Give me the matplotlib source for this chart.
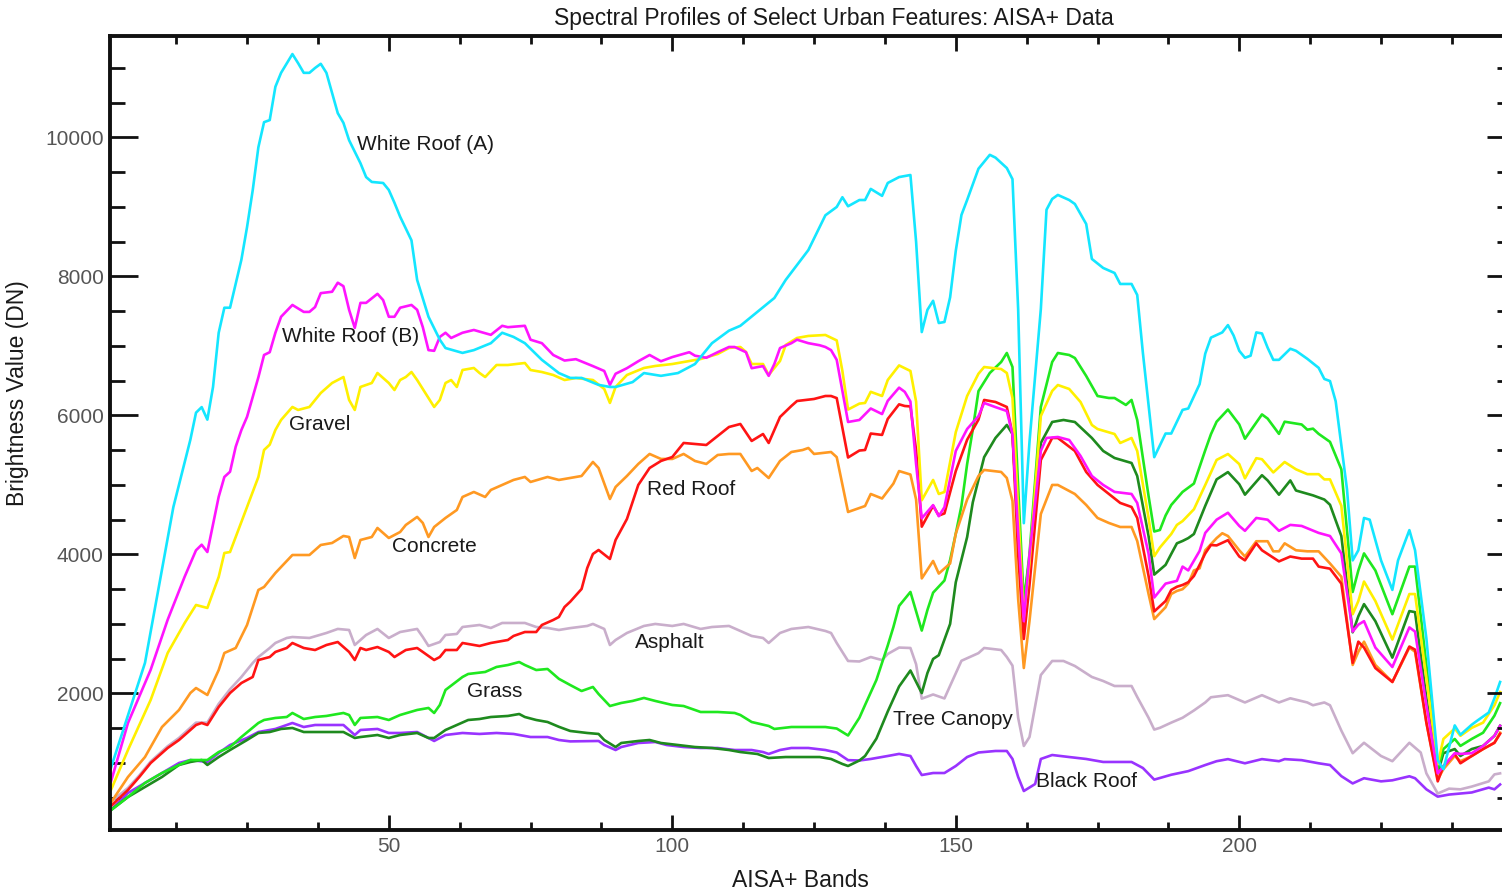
import matplotlib
matplotlib.use("Agg")
import matplotlib.pyplot as plt
from matplotlib.ticker import MultipleLocator

plt.rcParams['font.family'] = ['Liberation Sans', 'DejaVu Sans']

# (band, brightness DN)
white_a = [(1, 930), (7, 2440), (12, 4680), (15, 5650), (16, 6040), (17, 6120), (18, 5940), (19, 6410),
           (20, 7190), (21, 7550), (22, 7550), (24, 8240), (25, 8710), (26, 9240), (27, 9860), (28, 10220),
           (29, 10250), (30, 10730), (31, 10930), (33, 11200), (34, 11070), (35, 10930), (36, 10930),
           (37, 11000), (38, 11060), (39, 10930), (41, 10350), (42, 10210), (43, 9960), (45, 9630),
           (46, 9430), (47, 9360), (49, 9345), (50, 9245), (51, 9060), (52, 8860), (54, 8520), (55, 7950),
           (57, 7420), (59, 7090), (60, 6970), (63, 6900), (65, 6940), (68, 7040), (70, 7190), (72, 7130),
           (74, 7040), (77, 6800), (80, 6610), (82, 6540), (84, 6540), (87, 6440), (89, 6410), (90, 6410),
           (93, 6480), (95, 6610), (98, 6570), (101, 6610), (104, 6740), (105, 6840), (107, 7040),
           (110, 7220), (112, 7290), (115, 7490), (118, 7690), (120, 7950), (124, 8380), (127, 8880),
           (129, 9000), (130, 9140), (131, 9010), (133, 9100), (134, 9100), (135, 9260), (137, 9160),
           (138, 9345), (140, 9430), (142, 9460), (143, 8500), (144, 7200), (145, 7520), (146, 7650),
           (147, 7330), (148, 7345), (149, 7700), (150, 8370), (151, 8885), (152, 9100), (154, 9550),
           (156, 9750), (157, 9710), (159, 9560), (160, 9400), (161, 7530), (162, 4450), (163, 5620),
           (165, 7530), (166, 8960), (167, 9115), (168, 9173), (170, 9100), (171, 9043), (173, 8755),
           (174, 8252), (176, 8122), (178, 8050), (179, 7892), (181, 7892), (182, 7734), (183, 6900),
           (185, 5400), (187, 5740), (188, 5740), (190, 6080), (191, 6100), (193, 6450), (194, 6890),
           (195, 7120), (197, 7195), (198, 7300), (199, 7150), (200, 6930), (201, 6830), (202, 6860),
           (203, 7195), (204, 7180), (205, 6975), (206, 6800), (207, 6800), (209, 6960), (210, 6930),
           (212, 6815), (214, 6685), (215, 6525), (216, 6495), (217, 6205), (219, 4935), (220, 3915),
           (221, 4060), (222, 4525), (223, 4500), (225, 3915), (227, 3490), (228, 3915), (230, 4350),
           (231, 4060), (233, 2790), (235, 1040), (236, 910), (238, 1540), (239, 1405), (241, 1550),
           (242, 1610), (244, 1725), (245, 1930), (246, 2165)]

white_b = [(1, 730), (4, 1575), (8, 2340), (11, 3060), (14, 3680), (16, 4060), (17, 4140), (18, 4035),
           (20, 4830), (21, 5115), (22, 5190), (23, 5550), (24, 5790), (25, 5980), (27, 6550), (28, 6870),
           (29, 6910), (30, 7190), (31, 7420), (33, 7590), (35, 7490), (36, 7490), (37, 7560), (38, 7760),
           (40, 7780), (41, 7910), (42, 7860), (43, 7520), (44, 7260), (45, 7620), (46, 7620), (48, 7750),
           (49, 7660), (50, 7420), (51, 7420), (52, 7550), (54, 7590), (55, 7520), (56, 7270), (57, 6940),
           (58, 6930), (59, 7130), (60, 7190), (61, 7115), (63, 7190), (65, 7230), (68, 7160), (70, 7290),
           (71, 7270), (74, 7290), (75, 7090), (77, 7040), (79, 6870), (81, 6790), (83, 6810), (86, 6710),
           (88, 6640), (89, 6440), (90, 6600), (92, 6680), (94, 6780), (96, 6870), (98, 6780), (100, 6840),
           (103, 6910), (104, 6860), (106, 6830), (108, 6910), (110, 6985), (111, 6985), (113, 6910),
           (114, 6680), (116, 6710), (117, 6570), (118, 6740), (119, 6970), (121, 7040), (122, 7090),
           (124, 7040), (126, 7010), (127, 6985), (128, 6940), (129, 6800), (131, 5906), (133, 5935),
           (135, 6100), (137, 6020), (138, 6210), (140, 6400), (141, 6340), (142, 6200), (143, 5300),
           (144, 4520), (146, 4710), (147, 4550), (148, 4680), (150, 5490), (152, 5805), (154, 5990),
           (155, 6180), (157, 6120), (159, 6064), (160, 5730), (161, 4320), (162, 3040), (163, 4000),
           (165, 5490), (166, 5676), (168, 5690), (170, 5647), (172, 5417), (174, 5129), (176, 5000),
           (178, 4900), (181, 4870), (182, 4741), (184, 4010), (185, 3380), (187, 3580), (189, 3620),
           (190, 3825), (191, 3770), (193, 4050), (194, 4310), (196, 4500), (198, 4600), (200, 4410),
           (201, 4340), (203, 4525), (205, 4500), (207, 4340), (209, 4425), (211, 4410), (214, 4310),
           (216, 4265), (218, 4015), (220, 2890), (221, 2990), (222, 3040), (224, 2660), (227, 2380),
           (230, 2950), (231, 2890), (233, 1830), (235, 850), (236, 950), (238, 1140), (239, 1130),
           (241, 1140), (243, 1245), (245, 1390), (246, 1535)]

gravel = [(1, 611), (4, 1186), (8, 1906), (11, 2582), (14, 3014), (16, 3273), (18, 3230), (20, 3676),
          (21, 4021), (22, 4035), (24, 4467), (25, 4683), (27, 5115), (28, 5503), (29, 5580), (30, 5791),
          (31, 5935), (33, 6122), (34, 6079), (36, 6122), (38, 6323), (40, 6467), (42, 6553), (43, 6223),
          (44, 6079), (45, 6410), (47, 6467), (48, 6611), (50, 6467), (51, 6366), (52, 6510), (53, 6553),
          (54, 6625), (55, 6510), (57, 6251), (58, 6122), (59, 6223), (60, 6467), (61, 6510), (62, 6410),
          (63, 6654), (65, 6683), (66, 6611), (67, 6553), (69, 6726), (71, 6726), (74, 6755), (75, 6654),
          (77, 6625), (79, 6582), (81, 6510), (83, 6539), (86, 6510), (88, 6381), (89, 6180), (90, 6410),
          (92, 6582), (95, 6683), (97, 6712), (100, 6740), (102, 6769), (105, 6812), (108, 6884),
          (110, 6971), (112, 6985), (113, 6913), (114, 6740), (116, 6740), (117, 6582), (119, 6784),
          (120, 7014), (122, 7115), (124, 7144), (127, 7158), (129, 7080), (130, 6640), (131, 6085),
          (133, 6170), (134, 6180), (135, 6340), (137, 6280), (138, 6510), (140, 6720), (142, 6640),
          (143, 6200), (144, 4780), (146, 5072), (147, 4870), (148, 4899), (150, 5760), (152, 6280),
          (154, 6600), (155, 6697), (158, 6668), (159, 6611), (160, 6251), (161, 4654), (162, 3100),
          (163, 3877), (165, 5992), (167, 6352), (168, 6438), (170, 6381), (172, 6194), (174, 5863),
          (175, 5805), (178, 5733), (179, 5604), (181, 5676), (182, 5489), (184, 4525), (185, 3975),
          (186, 4100), (188, 4294), (189, 4425), (190, 4480), (192, 4650), (194, 5000), (196, 5360),
          (198, 5445), (200, 5300), (201, 5095), (203, 5385), (204, 5370), (206, 5180), (208, 5330),
          (210, 5225), (212, 5155), (214, 5155), (215, 5080), (216, 5080), (218, 4700), (220, 3140),
          (221, 3330), (222, 3610), (224, 3330), (227, 2775), (230, 3430), (231, 3430), (233, 2220),
          (235, 980), (236, 1345), (238, 1495), (239, 1390), (241, 1505), (243, 1580), (245, 1830),
          (246, 2020)]

concrete = [(1, 430), (4, 798), (7, 1085), (10, 1517), (13, 1762), (15, 2006), (16, 2078), (18, 1978),
            (20, 2337), (21, 2582), (23, 2654), (25, 2985), (27, 3489), (28, 3532), (30, 3733), (33, 3992),
            (36, 3992), (38, 4136), (40, 4165), (42, 4266), (43, 4251), (44, 3949), (45, 4208), (47, 4251),
            (48, 4381), (50, 4237), (52, 4323), (53, 4424), (55, 4540), (56, 4453), (57, 4251), (58, 4395),
            (60, 4525), (62, 4640), (63, 4827), (65, 4899), (67, 4827), (68, 4928), (70, 5000), (72, 5072),
            (74, 5115), (75, 5043), (78, 5115), (80, 5072), (82, 5100), (84, 5129), (86, 5331), (87, 5244),
            (89, 4798), (90, 4971), (92, 5129), (94, 5302), (96, 5446), (98, 5374), (100, 5374),
            (102, 5446), (104, 5345), (106, 5302), (108, 5431), (110, 5446), (112, 5446), (114, 5201),
            (115, 5244), (117, 5100), (119, 5345), (121, 5474), (123, 5503), (124, 5532), (125, 5446),
            (128, 5474), (129, 5400), (131, 4611), (133, 4669), (134, 4697), (135, 4870), (137, 4805),
            (139, 5020), (140, 5200), (142, 5150), (143, 4790), (144, 3655), (146, 3906), (147, 3725),
            (149, 3870), (150, 4300), (152, 4790), (154, 5129), (155, 5216), (158, 5187), (159, 5100),
            (160, 4769), (161, 3359), (162, 2366), (163, 3043), (165, 4582), (167, 5000), (168, 5000),
            (171, 4870), (173, 4712), (175, 4525), (177, 4453), (179, 4395), (181, 4395), (182, 4194),
            (184, 3431), (185, 3070), (187, 3240), (188, 3431), (189, 3475), (190, 3500), (191, 3580),
            (192, 3770), (193, 3800), (194, 4060), (196, 4235), (197, 4305), (198, 4265), (200, 4060),
            (201, 3970), (203, 4190), (205, 4190), (206, 4045), (207, 4045), (208, 4160), (210, 4060),
            (212, 4045), (214, 4045), (216, 3870), (218, 3680), (220, 2410), (221, 2600), (222, 2745),
            (224, 2410), (227, 2165), (230, 2660), (231, 2600), (233, 1580), (235, 765), (236, 910),
            (238, 1100), (239, 1025), (241, 1100), (243, 1200), (245, 1290), (246, 1435)]

red_roof = [(1, 380), (4, 611), (6, 798), (8, 999), (11, 1215), (13, 1330), (16, 1546), (17, 1575),
            (18, 1546), (20, 1805), (22, 2006), (24, 2150), (26, 2237), (27, 2481), (29, 2524), (30, 2597),
            (32, 2654), (33, 2726), (35, 2654), (37, 2625), (39, 2697), (41, 2740), (43, 2597), (44, 2481),
            (45, 2654), (46, 2625), (48, 2668), (50, 2597), (51, 2524), (53, 2625), (55, 2654), (56, 2597),
            (58, 2481), (59, 2524), (60, 2625), (62, 2625), (63, 2726), (66, 2683), (68, 2726), (71, 2769),
            (72, 2827), (74, 2884), (76, 2884), (77, 2985), (79, 3057), (80, 3100), (81, 3244), (82, 3320),
            (84, 3503), (85, 3805), (86, 4007), (87, 4064), (89, 3935), (90, 4208), (92, 4510), (94, 5000),
            (96, 5244), (98, 5345), (100, 5402), (102, 5604), (104, 5590), (106, 5575), (108, 5705),
            (110, 5834), (112, 5877), (114, 5633), (116, 5733), (117, 5604), (119, 5978), (121, 6136),
            (122, 6208), (125, 6237), (127, 6280), (128, 6280), (129, 6250), (131, 5395), (133, 5495),
            (134, 5503), (135, 5740), (137, 5720), (138, 5950), (140, 6160), (141, 6136), (142, 6130),
            (143, 5500), (144, 4400), (146, 4700), (147, 4560), (148, 4590), (150, 5200), (152, 5650),
            (154, 5940), (155, 6223), (157, 6194), (159, 6122), (160, 5733), (161, 4007), (162, 2784),
            (163, 3561), (165, 5359), (167, 5676), (168, 5676), (171, 5489), (173, 5187), (175, 5000),
            (177, 4870), (179, 4741), (181, 4683), (182, 4525), (184, 3690), (185, 3180), (187, 3330),
            (188, 3489), (189, 3535), (190, 3561), (191, 3600), (192, 3690), (193, 3850), (194, 4015),
            (195, 4136), (196, 4130), (198, 4205), (200, 3970), (201, 3915), (203, 4160), (204, 4060),
            (207, 3900), (209, 3970), (211, 3940), (213, 3940), (214, 3825), (216, 3795), (218, 3580),
            (220, 2440), (221, 2745), (222, 2660), (224, 2365), (227, 2165), (230, 2675), (231, 2630),
            (233, 1580), (235, 735), (236, 955), (238, 1130), (239, 995), (241, 1100), (243, 1200),
            (245, 1290), (246, 1420)]

asphalt = [(1, 440), (4, 640), (6, 820), (8, 1020), (11, 1240), (13, 1360), (16, 1580), (18, 1580),
           (20, 1850), (22, 2060), (24, 2237), (26, 2438), (27, 2524), (29, 2654), (30, 2726), (32, 2798),
           (33, 2812), (36, 2798), (39, 2870), (41, 2928), (43, 2913), (44, 2697), (46, 2841), (48, 2928),
           (50, 2798), (52, 2884), (55, 2928), (56, 2812), (57, 2683), (59, 2740), (60, 2841), (62, 2856),
           (63, 2956), (66, 2985), (68, 2942), (70, 3014), (74, 3014), (76, 2956), (78, 2942), (80, 2913),
           (82, 2940), (85, 2971), (86, 3000), (88, 2928), (89, 2697), (90, 2769), (92, 2870), (95, 2971),
           (97, 3000), (100, 2971), (102, 3000), (105, 2928), (107, 2956), (110, 2971), (112, 2899),
           (114, 2827), (116, 2798), (117, 2726), (119, 2870), (121, 2928), (124, 2956), (127, 2899),
           (128, 2870), (129, 2726), (131, 2467), (133, 2460), (135, 2524), (137, 2480), (138, 2568),
           (140, 2660), (142, 2654), (143, 2420), (144, 1925), (146, 1985), (148, 1928), (149, 2110),
           (151, 2470), (154, 2580), (155, 2654), (158, 2625), (159, 2524), (160, 2400), (161, 1650),
           (162, 1244), (163, 1373), (165, 2265), (167, 2467), (169, 2467), (171, 2395), (174, 2237),
           (176, 2179), (178, 2107), (181, 2107), (182, 1949), (184, 1650), (185, 1480), (186, 1505),
           (188, 1580), (190, 1650), (192, 1755), (194, 1870), (195, 1945), (198, 1975), (201, 1870),
           (204, 1975), (207, 1870), (209, 1930), (212, 1870), (213, 1830), (215, 1870), (216, 1830),
           (218, 1465), (220, 1140), (222, 1290), (225, 1100), (227, 1025), (230, 1290), (232, 1150),
           (233, 850), (235, 560), (237, 630), (239, 620), (241, 660), (244, 735), (245, 835), (246, 850)]

grass = [(1, 320), (4, 510), (7, 712), (10, 855), (13, 971), (15, 1042), (18, 1042), (20, 1157),
         (22, 1229), (24, 1373), (27, 1575), (28, 1618), (30, 1647), (32, 1661), (33, 1719), (35, 1632),
         (37, 1661), (39, 1676), (42, 1719), (43, 1690), (44, 1546), (45, 1647), (48, 1661), (50, 1618),
         (52, 1690), (55, 1762), (57, 1791), (58, 1719), (59, 1834), (60, 2050), (63, 2237), (64, 2280),
         (67, 2309), (69, 2381), (71, 2409), (73, 2452), (74, 2409), (76, 2337), (78, 2352), (80, 2210),
         (82, 2121), (84, 2035), (86, 2093), (87, 1992), (89, 1819), (91, 1863), (93, 1892), (95, 1935),
         (97, 1892), (100, 1834), (102, 1819), (105, 1733), (108, 1733), (111, 1719), (112, 1690),
         (114, 1589), (117, 1532), (118, 1489), (121, 1517), (124, 1517), (127, 1517), (129, 1495),
         (131, 1395), (133, 1650), (134, 1834), (136, 2194), (138, 2690), (139, 2956), (140, 3260),
         (142, 3460), (144, 2905), (145, 3201), (146, 3450), (148, 3625), (149, 3920), (150, 4300),
         (151, 4700), (152, 5300), (153, 5800), (154, 6350), (156, 6611), (158, 6769), (159, 6899),
         (160, 6697), (161, 4971), (162, 3302), (163, 4007), (165, 6122), (167, 6769), (168, 6899),
         (170, 6870), (171, 6827), (173, 6568), (175, 6280), (177, 6251), (178, 6251), (180, 6151),
         (181, 6223), (182, 5935), (184, 4841), (185, 4330), (186, 4352), (187, 4560), (188, 4712),
         (190, 4900), (192, 5020), (194, 5500), (195, 5730), (196, 5910), (198, 6085), (200, 5870),
         (201, 5665), (204, 6015), (205, 5955), (207, 5735), (208, 5910), (211, 5870), (212, 5795),
         (213, 5810), (214, 5735), (216, 5620), (218, 5225), (220, 3460), (221, 3770), (222, 4015),
         (224, 3770), (227, 3140), (230, 3825), (231, 3825), (233, 2410), (235, 910), (236, 1200),
         (238, 1345), (239, 1245), (241, 1345), (243, 1435), (245, 1680), (246, 1860)]

tree_canopy = [(1, 323), (4, 510), (7, 654), (10, 798), (13, 971), (15, 1014), (17, 1042), (18, 971),
               (20, 1085), (22, 1186), (25, 1330), (27, 1431), (29, 1445), (31, 1489), (33, 1503),
               (35, 1445), (39, 1445), (42, 1445), (43, 1402), (44, 1359), (45, 1373), (48, 1402),
               (50, 1359), (52, 1402), (55, 1431), (57, 1359), (58, 1359), (60, 1474), (62, 1546),
               (64, 1618), (66, 1632), (68, 1661), (71, 1676), (73, 1704), (74, 1661), (76, 1618),
               (78, 1589), (80, 1520), (82, 1460), (85, 1431), (87, 1417), (88, 1330), (90, 1229),
               (91, 1287), (94, 1316), (96, 1330), (98, 1287), (101, 1258), (104, 1229), (107, 1215),
               (110, 1186), (112, 1157), (115, 1129), (117, 1071), (120, 1085), (123, 1085), (126, 1085),
               (128, 1057), (130, 985), (131, 956), (133, 1035), (134, 1100), (136, 1350), (138, 1740),
               (140, 2100), (142, 2330), (144, 2005), (145, 2294), (146, 2496), (147, 2550), (149, 3000),
               (150, 3600), (152, 4250), (153, 4750), (155, 5400), (157, 5676), (159, 5863), (160, 5733),
               (161, 4323), (162, 3302), (163, 3935), (165, 5604), (167, 5906), (169, 5935), (171, 5906),
               (174, 5676), (176, 5489), (178, 5388), (181, 5316), (182, 5129), (184, 4266), (185, 3710),
               (187, 3850), (188, 4007), (189, 4160), (190, 4194), (191, 4235), (192, 4294), (194, 4700),
               (196, 5080), (198, 5185), (200, 5010), (201, 4860), (204, 5140), (205, 5065), (207, 4860),
               (209, 5065), (210, 4920), (213, 4850), (215, 4790), (216, 4715), (218, 4265), (220, 2880),
               (221, 3110), (222, 3285), (224, 3040), (227, 2515), (230, 3185), (231, 3170), (233, 1930),
               (235, 850), (236, 1140), (238, 1200), (239, 1100), (241, 1200), (243, 1245), (245, 1390),
               (246, 1535)]

black_roof = [(1, 323), (4, 568), (7, 712), (10, 855), (13, 999), (15, 1042), (18, 1014), (20, 1143),
              (22, 1258), (25, 1359), (27, 1445), (30, 1489), (32, 1546), (33, 1575), (35, 1517),
              (37, 1546), (42, 1546), (43, 1474), (44, 1402), (45, 1474), (48, 1489), (50, 1431),
              (52, 1431), (55, 1445), (57, 1359), (58, 1316), (60, 1402), (63, 1431), (66, 1417),
              (69, 1431), (72, 1417), (75, 1373), (78, 1373), (80, 1330), (82, 1310), (87, 1316),
              (88, 1258), (90, 1186), (91, 1229), (94, 1287), (97, 1301), (99, 1258), (102, 1229),
              (105, 1215), (108, 1215), (111, 1186), (114, 1186), (116, 1157), (117, 1129), (119, 1186),
              (121, 1215), (124, 1215), (127, 1186), (129, 1150), (131, 1040), (133, 1035), (135, 1057),
              (138, 1100), (140, 1130), (142, 1100), (143, 956), (144, 826), (146, 855), (148, 855),
              (150, 956), (152, 1085), (154, 1150), (157, 1172), (159, 1172), (160, 1057), (161, 798),
              (162, 596), (164, 697), (165, 1057), (167, 1114), (170, 1085), (173, 1057), (176, 1014),
              (181, 1014), (183, 927), (185, 760), (188, 830), (191, 882), (194, 970), (196, 1025),
              (198, 1055), (201, 995), (204, 1055), (207, 1025), (208, 1055), (211, 1040), (214, 995),
              (216, 970), (218, 810), (220, 705), (222, 780), (225, 735), (227, 750), (230, 808),
              (231, 780), (233, 620), (235, 515), (237, 545), (239, 560), (241, 575), (244, 645),
              (245, 620), (246, 690)]

# drawing order, colours and label spots (band, DN)
series = [
    (asphalt, "#C9AECB", "Asphalt", 93.4, 2740),
    (black_roof, "#9933FF", "Black Roof", 164.1, 740),
    (tree_canopy, "#1E8A1E", "Tree Canopy", 138.9, 1618),
    (grass, "#1FE81F", "Grass", 63.8, 2021),
    (concrete, "#FF9922", "Concrete", 50.6, 4108),
    (red_roof, "#FF1414", "Red Roof", 95.5, 4928),
    (gravel, "#FFF000", "Gravel", 32.4, 5863),
    (white_b, "#FF14FF", "White Roof (B)", 31.2, 7129),
    (white_a, "#14E6FF", "White Roof (A)", 44.4, 9892),
]

fig = plt.figure(figsize=(15.02, 8.96), dpi=100)
ax = fig.add_axes([110 / 1502, 1 - 830 / 896, 1393.5 / 1502, 794 / 896])

for data, color, name, tx, ty in series:
    bands = [b for b, v in data]
    vals = [v for b, v in data]
    ax.plot(bands, vals, color=color, lw=1.9, solid_joinstyle='round')
    ax.text(tx, ty, name, fontsize=15, color='#1a1a1a', ha='left', va='center')

ax.set_xlim(0.83, 246.6)
ax.set_ylim(35, 11460)

ax.xaxis.set_major_locator(MultipleLocator(50))
ax.xaxis.set_minor_locator(MultipleLocator(12.5))
ax.yaxis.set_major_locator(MultipleLocator(2000))
ax.yaxis.set_minor_locator(MultipleLocator(500))

ax.tick_params(axis='x', which='both', direction='in', top=True, width=2, colors='#111111',
               labelcolor='#555555', labelsize=15, pad=5)
ax.tick_params(axis='x', which='major', length=11)
ax.tick_params(axis='x', which='minor', length=5.5)
ax.tick_params(axis='y', which='both', direction='in', right=False, width=2, colors='#111111',
               labelcolor='#555555', labelsize=15, pad=4.5)
ax.tick_params(axis='y', which='major', length=20)
ax.tick_params(axis='y', which='minor', length=10.5)

for side in ['left', 'top', 'bottom', 'right']:
    ax.spines[side].set_linewidth(2.8)
    ax.spines[side].set_color('#111111')

# shorter ticks on the right edge
ax2 = ax.twinx()
ax2.set_ylim(ax.get_ylim())
ax2.yaxis.set_major_locator(MultipleLocator(2000))
ax2.yaxis.set_minor_locator(MultipleLocator(500))
ax2.tick_params(axis='y', which='both', direction='in', labelright=False, width=2, colors='#111111')
ax2.tick_params(axis='y', which='major', length=12)
ax2.tick_params(axis='y', which='minor', length=5)
for side in ['left', 'top', 'bottom', 'right']:
    ax2.spines[side].set_visible(False)

fig.text(834 / 1502, 1 - 18 / 896, "Spectral Profiles of Select Urban Features: AISA+ Data",
         fontsize=16.5, color='#1a1a1a', ha='center', va='center')
fig.text(800 / 1502, 1 - 880 / 896, "AISA+ Bands", fontsize=16.5, color='#1a1a1a',
         ha='center', va='center')
fig.text(18 / 1502, 1 - 393 / 896, "Brightness Value (DN)", fontsize=16.5, color='#1a1a1a',
         ha='center', va='center', rotation=90)

fig.savefig("out.png", dpi=100)
